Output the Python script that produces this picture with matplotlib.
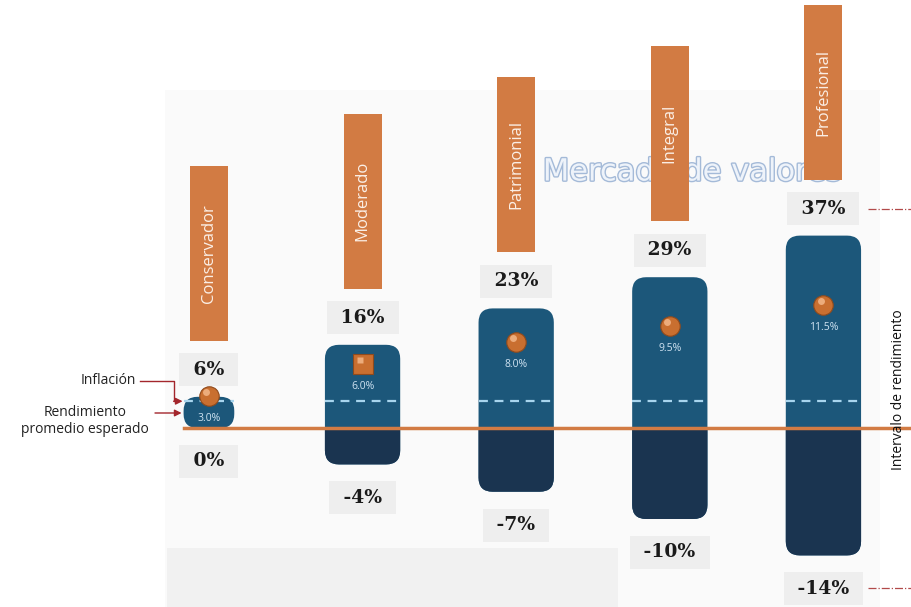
import numpy as np
import matplotlib
matplotlib.use("Agg")
import matplotlib.pyplot as plt
import matplotlib.patheffects as pe
from matplotlib.patches import FancyBboxPatch, Rectangle
from matplotlib.transforms import IdentityTransform, offset_copy

# datos
categories = ["Conservador", "Moderado", "Patrimonial", "Integral", "Profesional"]
max_return = [6, 16, 23, 29, 37]
min_return = [0, -4, -7, -10, -14]
expected_return = [3.0, 6.0, 8.0, 9.5, 11.5]
inflation = 2.5

# estilos
bar_widths = [0.33, 0.49, 0.49, 0.49, 0.49]
marker_shapes = ["o", "s", "o", "o", "o"]
BLUE = "#1c577a"
NAVY = "#1a3450"
ORANGE = "#d27b43"
RED = "#a3262c"
SANS = "Open Sans"

PX = IdentityTransform()

fig = plt.figure(figsize=(9.11, 6.07), dpi=100)
fig.patch.set_facecolor("white")
ax = fig.add_axes([0, 0, 1, 1])
ax.axis("off")


# escala no lineal: la parte negativa se estira
def fwd(y):
    y = np.asarray(y, dtype=float)
    return np.where(y >= 0, y, y * 1.75)


def inv(t):
    t = np.asarray(t, dtype=float)
    return np.where(t >= 0, t, t / 1.75)


ax.set_yscale("function", functions=(fwd, inv))
ax.set_xlim(-1.36, 4.57)
ax.set_ylim(-19.67, 82.31)

ax2 = ax.twinx()
ax2.axis("off")
ax2.set_ylim(-16.73, 40.0)

# fondo
ax.add_patch(Rectangle((165, 0), 715, 517, transform=PX, fc="#fafafa", ec="none", zorder=0))
ax.add_patch(Rectangle((167, 0), 451, 59, transform=PX, fc="#f1f1f1", ec="none", zorder=0.5))

x = np.arange(len(categories))

for i in range(len(categories)):
    w = bar_widths[i]
    xl, yb = ax.transData.transform((x[i] - w / 2, min_return[i]))
    xr, yt = ax.transData.transform((x[i] + w / 2, max_return[i]))
    y0 = ax.transData.transform((x[i], 0))[1]
    r = min(14, (yt - yb) / 2 - 1)
    style = f"round,pad=0,rounding_size={r}"
    ax.add_patch(FancyBboxPatch((xl, yb), xr - xl, yt - yb, boxstyle=style,
                                transform=PX, fc=BLUE, ec="none", zorder=2))
    if min_return[i] < 0:
        low = FancyBboxPatch((xl, yb), xr - xl, yt - yb, boxstyle=style,
                             transform=PX, fc=NAVY, ec="none", zorder=2.1)
        ax.add_patch(low)
        low.set_clip_path(Rectangle((xl - 2, yb - 2), xr - xl + 4, y0 - yb + 2, transform=PX))

    # etiquetas de rango
    ax.annotate(f" {max_return[i]}% ", (x[i], max_return[i]), xytext=(0, 19.5),
                textcoords="offset points", ha="center", va="center",
                fontsize=13.5, fontfamily="DejaVu Serif", fontweight="bold", color="#1a1a1a",
                bbox=dict(boxstyle="square,pad=0.4", fc="#eeeeee", ec="none"), zorder=4)
    ax.annotate(f" {min_return[i]}% ", (x[i], min_return[i]), xytext=(0, -24),
                textcoords="offset points", ha="center", va="center",
                fontsize=13.5, fontfamily="DejaVu Serif", fontweight="bold", color="#1a1a1a",
                bbox=dict(boxstyle="square,pad=0.4", fc="#eeeeee", ec="none"), zorder=4)

    # caja naranja con el nombre del perfil
    lab_y = yt + 19.5 * 100 / 72
    xc = (xl + xr) / 2
    ax.add_patch(Rectangle((xc - 19, lab_y + 29), 38, 175, transform=PX,
                           fc=ORANGE, ec="none", zorder=6))
    ax.text(xc, lab_y + 29 + 87.5, categories[i], rotation=90, ha="center", va="center",
            fontsize=12, family=SANS, color="#fbefe6", transform=PX, zorder=7)

    # inflación y rendimiento esperado
    ax2.hlines(inflation, x[i] - w / 2, x[i] + w / 2, colors="#a8d5ee",
               linestyles=(0, (4, 3)), lw=1.6, zorder=4)
    ax2.plot(x[i], expected_return[i], marker=marker_shapes[i], ms=14,
             mfc="#c96f30", mec="#8f4a1c", mew=0.8, zorder=5)
    ax2.plot(x[i], expected_return[i], marker=marker_shapes[i], ms=5,
             mfc="#f3b789", mec="none", alpha=0.85, zorder=6,
             transform=offset_copy(ax2.transData, fig, x=-2, y=3, units="points"))
    ax2.annotate(f"{expected_return[i]:.1f}%", (x[i], expected_return[i]), xytext=(0, -16),
                 textcoords="offset points", ha="center", va="center",
                 fontsize=7.5, family=SANS, color="#cfe3f2", zorder=6)

# línea naranja en 0%
xl0 = ax.transData.transform((x[0] - bar_widths[0] / 2, 0))[0]
ax.axhline(0, xmin=xl0 / 911, xmax=1, color=ORANGE, lw=2.5, zorder=3)

# marca de agua
ax.text(692, 435, "Mercado de valores", transform=PX, ha="center", va="center",
        fontsize=22, family="DejaVu Sans", color="#eef3fa", zorder=5,
        path_effects=[pe.withStroke(linewidth=2, foreground="#a4bad8")])

# intervalo de rendimiento
top_lab = ax.transData.transform((x[-1], max_return[-1]))[1] + 27
bot_lab = ax.transData.transform((x[-1], min_return[-1]))[1] - 33
ax.plot([868, 911], [top_lab, top_lab], transform=PX, color="#b24a4a", ls="-.", lw=0.9)
ax.plot([868, 911], [bot_lab, bot_lab], transform=PX, color="#b24a4a", ls="-.", lw=0.9)
ax.text(898, 217, "Intervalo de rendimiento", transform=PX, rotation=90,
        ha="center", va="center", fontsize=10, family=SANS, color="#111111")

# anotaciones de la izquierda
y_inf = ax2.transData.transform((0, inflation))[1]
xv = xl0 - 10
ax.text(136, 226, "Inflación", transform=PX, ha="right", va="center",
        fontsize=10, family=SANS, color="#222222")
ax.text(85, 186, "Rendimiento\npromedio esperado", transform=PX, ha="center", va="center",
        fontsize=10, family=SANS, color="#222222", linespacing=1.15)
ax.plot([140, xv, xv], [226, 226, y_inf], transform=PX, color=RED, lw=1)
ax.annotate("", xy=(xl0 - 1, y_inf), xytext=(xv, y_inf), xycoords="figure pixels",
            textcoords="figure pixels",
            arrowprops=dict(arrowstyle="-|>", color=RED, lw=1, mutation_scale=10, shrinkA=0, shrinkB=0))
ax.annotate("", xy=(xl0 - 2, 194), xytext=(155, 194), xycoords="figure pixels",
            textcoords="figure pixels",
            arrowprops=dict(arrowstyle="-|>", color=RED, lw=1, mutation_scale=10, shrinkA=0, shrinkB=0))

fig.savefig("out.png", dpi=100)
